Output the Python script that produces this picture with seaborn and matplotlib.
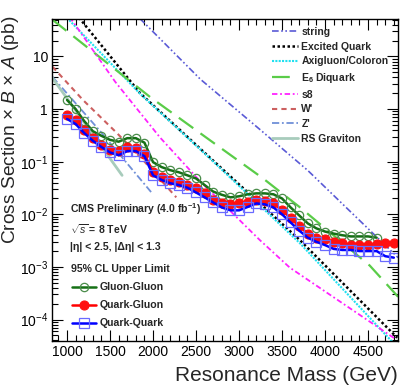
import matplotlib
matplotlib.use("Agg")
import matplotlib.pyplot as plt
import seaborn as sns
from matplotlib.ticker import MultipleLocator

# 95% CL upper limits (pb)
mass = list(range(1000, 4900, 100))
mass_gg = mass[:37]
gluon_gluon = [1.49, 1.00, 0.59, 0.38, 0.31, 0.26, 0.24, 0.28, 0.28, 0.23,
               0.098, 0.079, 0.069, 0.063, 0.055, 0.048, 0.036, 0.027, 0.0235, 0.021,
               0.022, 0.024, 0.025, 0.025, 0.024, 0.020, 0.0135, 0.0095, 0.0067, 0.0054,
               0.0047, 0.0043, 0.0040, 0.0038, 0.0038, 0.0038, 0.0036]
quark_gluon = [0.77, 0.62, 0.40, 0.28, 0.21, 0.17, 0.16, 0.19, 0.18, 0.14,
               0.063, 0.051, 0.044, 0.041, 0.036, 0.031, 0.025, 0.0184, 0.0161, 0.0155,
               0.0161, 0.0169, 0.0184, 0.0176, 0.0161, 0.0119, 0.0085, 0.0059, 0.0043, 0.0036,
               0.0034, 0.0030, 0.0028, 0.0026, 0.0026, 0.0026, 0.0027, 0.0029, 0.0029]
quark_quark = [0.65, 0.52, 0.35, 0.25, 0.19, 0.15, 0.133, 0.159, 0.159, 0.127,
               0.055, 0.045, 0.039, 0.036, 0.032, 0.026, 0.021, 0.0168, 0.0135, 0.0119,
               0.0119, 0.0138, 0.0161, 0.0155, 0.0135, 0.0100, 0.0070, 0.0049, 0.0036, 0.0030,
               0.0026, 0.0022, 0.0021, 0.0021, 0.0020, 0.0020, 0.0020, 0.0016, 0.0015]

# model cross sections (pb)
string_m = [1700, 1850, 2550, 3250, 3800, 4850]
string_xs = [90, 52, 3.7, 0.40, 0.068, 0.0015]
qstar_m = [1000, 1150, 1850, 2660, 3710, 4840]
qstar_xs = [110, 52, 2.0, 0.12, 0.0032, 4.5e-5]
axigluon_m = [900, 1010, 1850, 2660, 3710, 4800]
axigluon_xs = [85, 52, 1.95, 0.116, 0.0028, 3.5e-5]
diquark_m = [830, 1965, 2660, 3280, 3710, 4520, 4850]
diquark_xs = [50, 1.7, 0.257, 0.048, 0.0135, 0.00106, 2.7e-4]
s8_m = [950, 1045, 1560, 2080, 2550, 3245, 3590, 4815]
s8_xs = [90, 52, 3.3, 0.29, 0.042, 0.0032, 9.7e-4, 4.3e-5]
wprime_m = [830, 1185, 1580, 1885, 2270]
wprime_xs = [6.4, 1.49, 0.35, 0.107, 0.021]
zprime_m = [830, 1385, 1990]
zprime_xs = [4.1, 0.38, 0.025]
rsg_m = [830, 1640]
rsg_xs = [3.9, 0.055]

sns.set_style("ticks")
plt.rcParams['font.family'] = ['Liberation Sans', 'DejaVu Sans']
plt.rcParams['mathtext.fontset'] = 'custom'
plt.rcParams['mathtext.rm'] = 'Liberation Sans'
plt.rcParams['mathtext.it'] = 'Liberation Sans:italic'
plt.rcParams['mathtext.bf'] = 'Liberation Sans:bold'

fig = plt.figure(figsize=(4.07, 3.92), dpi=100)
ax = fig.add_axes([0.128, 0.130, 0.850, 0.822])

theory = [
    ("string", string_m, string_xs, "#5a5ad6", (0, (4, 1.5, 1, 1.5, 1, 1.5)), 1.2),
    ("Excited Quark", qstar_m, qstar_xs, "black", (0, (1, 1)), 1.8),
    ("Axigluon/Coloron", axigluon_m, axigluon_xs, "#22e0f0", (0, (1, 0.6)), 1.5),
    ("E$_\\mathbf{6}$ Diquark", diquark_m, diquark_xs, "#5acc48", (0, (8, 4)), 1.6),
    ("s8", s8_m, s8_xs, "#ff22ff", (0, (3, 1.5, 1, 1.5)), 1.3),
    ("W'", wprime_m, wprime_xs, "#cc6060", (0, (2.5, 2)), 1.5),
    ("Z'", zprime_m, zprime_xs, "#7090d8", (0, (4, 1.5, 1, 1.5)), 1.3),
    ("RS Graviton", rsg_m, rsg_xs, "#a8ccbc", "-", 2.0),
]
theory_handles = []
for label, m, xs, color, ls, lw in theory:
    sns.lineplot(x=m, y=xs, ax=ax, color=color, linestyle=ls, linewidth=lw,
                 legend=False, sort=False)
    theory_handles.append(ax.lines[-1])

sns.lineplot(x=mass_gg, y=gluon_gluon, ax=ax, color="#157015", linewidth=1.8,
             marker="o", markersize=6, markerfacecolor="none",
             markeredgecolor="#4a8c4a", markeredgewidth=0.9, legend=False)
h_gg = ax.lines[-1]
sns.lineplot(x=mass, y=quark_gluon, ax=ax, color="#ff0000", linewidth=1.8,
             marker="o", markersize=6.5, markerfacecolor="#ff1010",
             markeredgecolor="#ff1010", markeredgewidth=0.8, legend=False)
h_qg = ax.lines[-1]
sns.lineplot(x=mass, y=quark_quark, ax=ax, color="#0000ff", linewidth=1.8,
             marker="s", markersize=6.5, markerfacecolor="none",
             markeredgecolor="#6a6aff", markeredgewidth=0.9, legend=False)
h_qq = ax.lines[-1]

ax.set_yscale("log")
ax.set_xlim(826, 4849)
ax.set_ylim(3.9e-5, 52)
ax.xaxis.set_major_locator(MultipleLocator(500))
ax.xaxis.set_minor_locator(MultipleLocator(100))
ax.set_yticks([1e-4, 1e-3, 1e-2, 1e-1, 1, 10])
ax.set_yticklabels(["$10^{-4}$", "$10^{-3}$", "$10^{-2}$", "$10^{-1}$", "1", "10"])
ax.tick_params(which="both", direction="in", top=True, right=True, labelsize=10,
               width=0.8, colors="black")
ax.tick_params(which="major", length=8, pad=3)
ax.tick_params(which="minor", length=4)
for s in ax.spines.values():
    s.set_linewidth(1.0)
    s.set_color("black")

ax.set_xlabel("Resonance Mass (GeV)", fontsize=15, loc="right", labelpad=5)
ax.set_ylabel("Cross Section \u00d7 $\\mathit{B}$ \u00d7 $\\mathit{A}$ (pb)", fontsize=13.8,
              loc="top")
ax.yaxis.set_label_coords(-0.089, 1.01)

leg1 = ax.legend(theory_handles, [t[0] for t in theory], loc="upper left",
                 bbox_to_anchor=(0.636, 0.975), frameon=False,
                 prop={"weight": "bold", "size": 7.5}, handlelength=2.5,
                 handletextpad=0.3, labelspacing=0.45, borderaxespad=0, borderpad=0)
ax.add_artist(leg1)

ax.legend([h_gg, h_qg, h_qq], ["Gluon-Gluon", "Quark-Gluon", "Quark-Quark"],
          loc="upper left", bbox_to_anchor=(0.058, 0.182), frameon=False,
          prop={"weight": "bold", "size": 7.6}, handlelength=2.3,
          handletextpad=0.3, labelspacing=0.75, borderaxespad=0, borderpad=0)

txt = dict(transform=ax.transAxes, fontsize=7.6, fontweight="bold", va="center", ha="left")
ax.text(0.052, 0.410, "CMS Preliminary (4.0 fb$^{\\mathbf{-1}}$)", **txt)
ax.text(0.052, 0.348, "$\\sqrt{s}$ = 8 TeV", **txt)
ax.text(0.052, 0.292, "|\u03b7| < 2.5, |\u0394\u03b7| < 1.3", **txt)
ax.text(0.055, 0.224, "95% CL Upper Limit", **txt)

fig.savefig("out.png", dpi=100)
